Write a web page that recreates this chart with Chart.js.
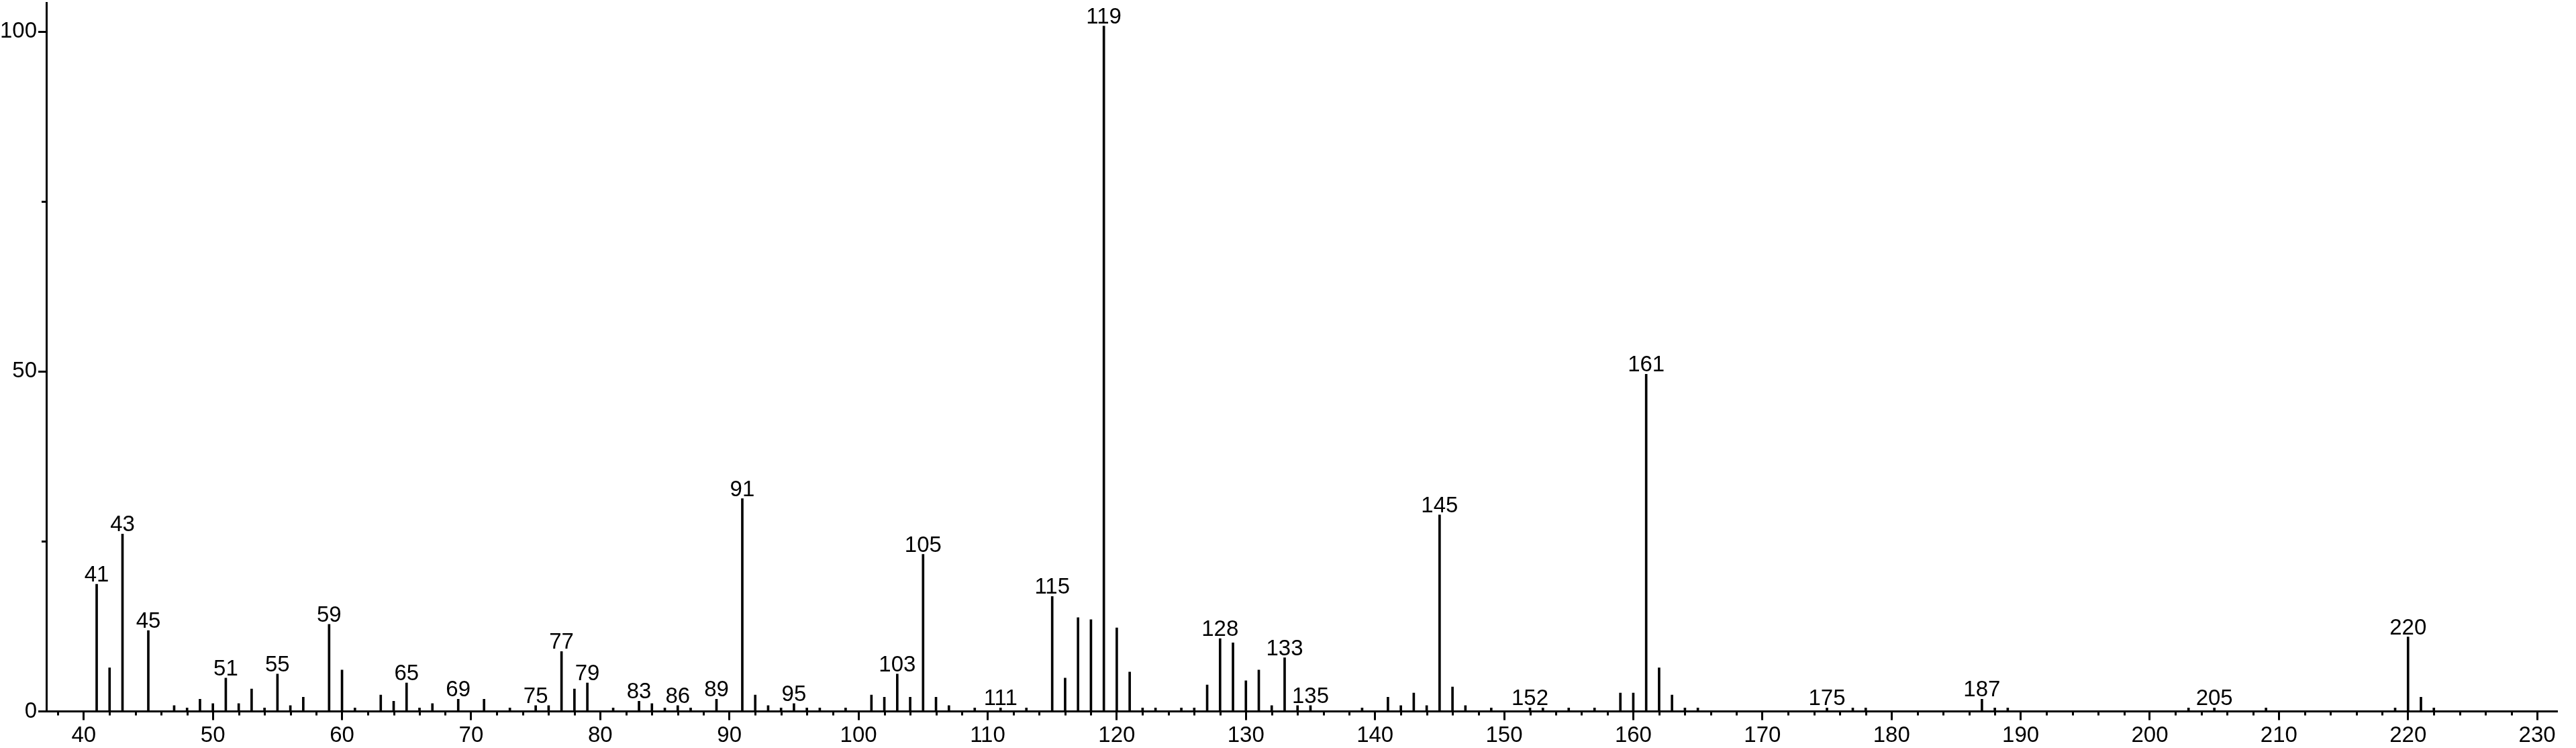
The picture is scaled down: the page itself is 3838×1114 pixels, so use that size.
<!DOCTYPE html>
<html>
<head>
<meta charset="utf-8">
<title>Mass spectrum</title>
<script src="https://cdn.jsdelivr.net/npm/chart.js@4.4.1/dist/chart.umd.min.js"></script>
<style>
  html, body { margin: 0; padding: 0; background: #fff; }
  canvas { display: block; }
</style>
</head>
<body>
<canvas id="spectrum" width="3838" height="1114"></canvas>
<script>
// m/z of each peak
const masses = [
  41, 42, 43, 45, 47, 48, 49, 50, 51, 52, 53, 54, 55, 56, 57, 59, 60, 61, 63, 64,
  65, 66, 67, 69, 71, 73, 75, 76, 77, 78, 79, 81, 83, 84, 85, 86, 87, 89, 91, 92,
  93, 94, 95, 96, 97, 99, 101, 102, 103, 104, 105, 106, 107, 109, 111, 113, 115, 116, 117, 118,
  119, 120, 121, 122, 123, 125, 126, 127, 128, 129, 130, 131, 132, 133, 134, 135, 139, 141, 142, 143,
  144, 145, 146, 147, 149, 152, 153, 155, 157, 159, 160, 161, 162, 163, 164, 165, 175, 177, 178, 187,
  188, 189, 203, 205, 209, 219, 220, 221, 222
];

// relative intensity (%) of each peak, same order as masses
const intensities = [
  18.7, 6.4, 26.1, 11.9, 0.85, 0.5, 1.8, 1.15, 4.9, 1.15, 3.3, 0.5, 5.5, 0.85, 2.1, 12.8, 6.1, 0.5, 2.4, 1.5,
  4.2, 0.5, 1.15, 1.8, 1.8, 0.5, 0.85, 0.85, 8.8, 3.3, 4.2, 0.5, 1.5, 1.15, 0.5, 0.85, 0.5, 1.8, 31.3, 2.4,
  0.85, 0.5, 1.15, 0.5, 0.5, 0.5, 2.4, 2.1, 5.5, 2.1, 23.1, 2.1, 0.85, 0.5, 0.5, 0.5, 16.9, 4.9, 13.8, 13.5,
  100.8, 12.3, 5.8, 0.5, 0.5, 0.5, 0.5, 3.9, 10.7, 10.1, 4.5, 6.1, 0.85, 7.9, 0.85, 0.85, 0.5, 2.1, 0.85, 2.7,
  0.85, 28.9, 3.6, 0.85, 0.5, 0.5, 0.5, 0.5, 0.5, 2.7, 2.7, 49.6, 6.4, 2.4, 0.5, 0.5, 0.5, 0.5, 0.5, 1.8,
  0.5, 0.5, 0.5, 0.5, 0.5, 0.5, 10.95, 2.1, 0.5
];

// peaks that get their m/z written above them
const labeledMasses = [
  41, 43, 45, 51, 55, 59, 65, 69, 75, 77, 79, 83, 86, 89, 91, 95, 103, 105, 111,
  115, 119, 128, 133, 135, 145, 152, 161, 175, 187, 205, 220
];

// axis ticks
const xTicks = [40, 50, 60, 70, 80, 90, 100, 110, 120, 130, 140, 150, 160, 170, 180, 190, 200, 210, 220, 230];
const yTicks = [0, 50, 100];
const yMinorTicks = [25, 75];

// minor x ticks every 2 units between the labelled ones
const xMinorTicks = [];
for (let v = 38; v <= 230; v += 2) {
  if (v % 10 !== 0) xMinorTicks.push(v);
}

const FONT = { family: "'Liberation Sans', Arial, Helvetica, sans-serif", size: 33 };

// -----------------------------
// Minor ticks + peak labels
// -----------------------------
const spectrumExtras = {
  id: "spectrumExtras",
  afterDraw(chart) {
    const { ctx, chartArea } = chart;
    const x = chart.scales.x;
    const y = chart.scales.y;

    ctx.save();
    ctx.strokeStyle = "#000";
    ctx.lineWidth = 3;
    ctx.beginPath();
    xMinorTicks.forEach((v) => {
      const px = Math.round(x.getPixelForValue(v)) + 0.5;
      ctx.moveTo(px, chartArea.bottom);
      ctx.lineTo(px, chartArea.bottom + 6);
    });
    yMinorTicks.forEach((v) => {
      const py = Math.round(y.getPixelForValue(v)) + 0.5;
      ctx.moveTo(chartArea.left, py);
      ctx.lineTo(chartArea.left - 7, py);
    });
    ctx.stroke();

    const meta = chart.getDatasetMeta(0);
    ctx.fillStyle = "#000";
    ctx.font = `${FONT.size}px ${FONT.family}`;
    ctx.textAlign = "center";
    ctx.textBaseline = "alphabetic";
    labeledMasses.forEach((m) => {
      const bar = meta.data[masses.indexOf(m)];
      if (bar) ctx.fillText(String(m), bar.x, bar.y - 4);
    });
    ctx.restore();
  },
};

// -----------------------------
// Chart
// -----------------------------
const ctx = document.getElementById("spectrum").getContext("2d");
new Chart(ctx, {
  type: "bar",
  data: {
    datasets: [
      {
        data: masses.map((m, i) => ({ x: m, y: intensities[i] })),
        backgroundColor: "#000",
        borderWidth: 0,
        barThickness: 3,
      },
    ],
  },
  options: {
    responsive: false,
    devicePixelRatio: 1,
    animation: false,
    layout: { padding: { top: 4, right: 29, bottom: 0, left: 0 } },
    plugins: { legend: { display: false }, tooltip: { enabled: false } },
    scales: {
      x: {
        type: "linear",
        min: 37.1,
        max: 231.5,
        offset: false,
        afterBuildTicks: (s) => {
          s.ticks = xTicks.map((v) => ({ value: v }));
        },
        afterFit: (s) => {
          s.height = 54.5;
          s.paddingLeft = 0;
          s.paddingRight = 0;
        },
        ticks: { padding: 4, maxRotation: 0, autoSkip: false, font: FONT, color: "#000" },
        grid: {
          offset: false,
          drawOnChartArea: false,
          drawTicks: true,
          tickLength: 13,
          tickWidth: 3,
          color: "#000",
          lineWidth: 3,
        },
        border: { display: true, color: "#000", width: 3 },
      },
      y: {
        min: 0,
        max: 104.25,
        afterBuildTicks: (s) => {
          s.ticks = yTicks.map((v) => ({ value: v }));
        },
        afterFit: (s) => {
          s.width = 69;
          s.paddingTop = 0;
          s.paddingBottom = 0;
        },
        ticks: { padding: 2, font: FONT, color: "#000" },
        grid: {
          drawOnChartArea: false,
          drawTicks: true,
          tickLength: 12,
          tickWidth: 3,
          color: "#000",
          lineWidth: 3,
        },
        border: { display: true, color: "#000", width: 3 },
      },
    },
  },
  plugins: [spectrumExtras],
});
</script>
</body>
</html>
